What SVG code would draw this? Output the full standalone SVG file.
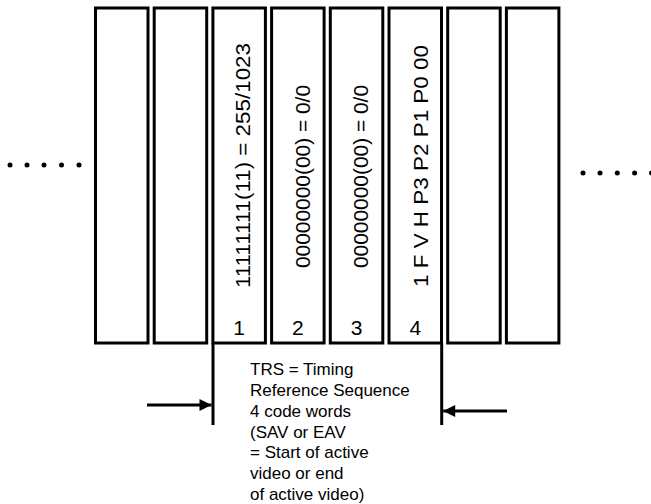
<svg xmlns="http://www.w3.org/2000/svg" width="651" height="504" viewBox="0 0 651 504">
<style>
.box{fill:#fff;stroke:#000;stroke-width:3}
.t{font-family:"Liberation Sans",Arial,sans-serif;fill:#000}
.rt{font-size:21px}
.num{font-size:21px;text-anchor:middle}
.lbl{font-size:17px}
.ln{stroke:#000;stroke-width:3;fill:none}
.dot{fill:#000}
</style>
<defs>
<marker id="ah" viewBox="0 0 10 10" refX="10" refY="5" markerWidth="4.2" markerHeight="4" orient="auto" markerUnits="strokeWidth">
<path d="M0,0 L10,5 L0,10 z" fill="#000"/>
</marker>
</defs>
<rect width="651" height="504" fill="#fff"/>
<g id="dots-left">
<circle class="dot" cx="10" cy="165" r="2.5"/>
<circle class="dot" cx="27" cy="165" r="2.5"/>
<circle class="dot" cx="44" cy="165" r="2.5"/>
<circle class="dot" cx="61.5" cy="165" r="2.5"/>
<circle class="dot" cx="79" cy="165" r="2.5"/>
</g>
<g id="dots-right">
<circle class="dot" cx="583" cy="173" r="2.5"/>
<circle class="dot" cx="600" cy="173" r="2.5"/>
<circle class="dot" cx="617.3" cy="173" r="2.5"/>
<circle class="dot" cx="634.6" cy="173" r="2.5"/>
<circle class="dot" cx="651.5" cy="173" r="2.5"/>
</g>
<g id="word-a"><rect class="box" x="95.5" y="8" width="52.5" height="335"/></g>
<g id="word-b"><rect class="box" x="154.2" y="8" width="52.5" height="335"/></g>
<g id="trs-1">
<rect class="box" x="212.9" y="8" width="52.5" height="335"/>
<text class="t rt" transform="translate(250 288) rotate(-90)" textLength="245" lengthAdjust="spacingAndGlyphs">11111111(11) = 255/1023</text>
<text class="t num" x="239.2" y="335">1</text>
</g>
<g id="trs-2">
<rect class="box" x="271.6" y="8" width="52.5" height="335"/>
<text class="t rt" transform="translate(310 268) rotate(-90)" textLength="183" lengthAdjust="spacingAndGlyphs">00000000(00) = 0/0</text>
<text class="t num" x="297.9" y="335">2</text>
</g>
<g id="trs-3">
<rect class="box" x="330.3" y="8" width="52.5" height="335"/>
<text class="t rt" transform="translate(367.5 268) rotate(-90)" textLength="183" lengthAdjust="spacingAndGlyphs">00000000(00) = 0/0</text>
<text class="t num" x="356.6" y="335">3</text>
</g>
<g id="trs-4">
<rect class="box" x="389" y="8" width="52.5" height="335"/>
<text class="t rt" transform="translate(427.5 287) rotate(-90)" textLength="242" lengthAdjust="spacingAndGlyphs">1 F V H P3 P2 P1 P0 00</text>
<text class="t num" x="415.3" y="335">4</text>
</g>
<g id="word-c"><rect class="box" x="447.7" y="8" width="52.5" height="335"/></g>
<g id="word-d"><rect class="box" x="506.4" y="8" width="52.5" height="335"/></g>
<g id="connectors">
<line class="ln" x1="213" y1="343" x2="213" y2="425"/>
<line class="ln" x1="441.7" y1="343" x2="441.7" y2="425"/>
<line class="ln" x1="147" y1="405" x2="211.5" y2="405" marker-end="url(#ah)"/>
<line class="ln" x1="507" y1="411" x2="443.2" y2="411" marker-end="url(#ah)"/>
</g>
<g id="trs-label">
<text class="t lbl" x="250" y="375">TRS = Timing</text>
<text class="t lbl" x="250" y="396">Reference Sequence</text>
<text class="t lbl" x="250" y="416.7">4 code words</text>
<text class="t lbl" x="250" y="437.5">(SAV or EAV</text>
<text class="t lbl" x="250" y="458.3">= Start of active</text>
<text class="t lbl" x="250" y="479.2">video or end</text>
<text class="t lbl" x="250" y="500">of active video)</text>
</g>
</svg>
